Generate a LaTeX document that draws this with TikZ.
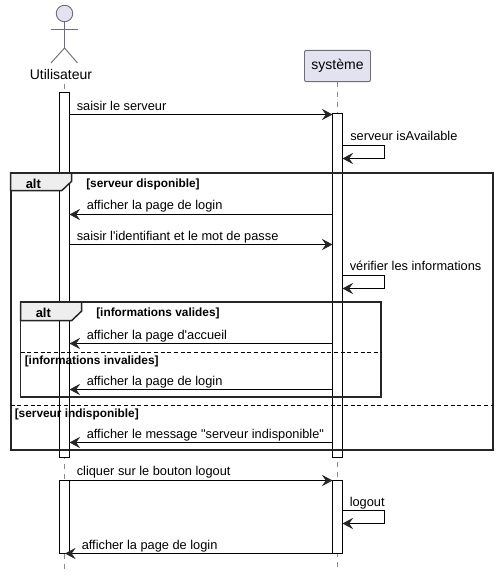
\documentclass[tikz,border=0pt]{standalone}
\usepackage{fontspec}
\setmainfont[Ligatures=TeXOff]{Liberation Sans}
\usepackage{xcolor}
\usetikzlibrary{arrows.meta,positioning,calc}
\definecolor{partfill}{HTML}{E2E2F0}
\definecolor{partline}{HTML}{6E6E78}
\definecolor{tabfill}{HTML}{EEEEEE}
\definecolor{lifeline}{HTML}{8A8A8A}

\begin{document}
\begin{tikzpicture}[
      x=0.75pt, y=-0.75pt,
      msg/.style={draw=black, line width=0.75pt, -{Stealth[length=8pt,width=8.5pt,inset=3pt,color=black!85]}},
      lbl/.style={anchor=base west, inner sep=0pt, font=\fontsize{9.6}{11}\selectfont},
      guard/.style={anchor=base west, inner sep=0pt, font=\fontsize{8.9}{11}\selectfont\bfseries},
      bar/.style={draw=black, fill=white, line width=0.75pt, minimum width=7.5pt, inner sep=0pt, outer sep=0pt},
      frame/.style={draw=black!85, line width=1.4pt, inner sep=0pt, outer sep=0pt},
      tab/.style={draw=black!85, line width=1.1pt, fill=tabfill},
      divider/.style={draw=black, line width=0.6pt, densely dashed},
      life/.style={draw=lifeline, line width=0.6pt, dash pattern=on 3.75pt off 3.75pt},
      stick/.style={draw=partline, line width=0.7pt}
    ]
    \useasboundingbox (0,0) rectangle (498,577);

    % participants
    \node[circle, draw=partline, fill=partfill, line width=0.7pt, minimum size=12.4pt, inner sep=0pt] (head) at (64.5,13.5) {};
    \coordinate (hip) at (64.5,48);
    \coordinate (armL) at (51,29);
    \coordinate (armR) at (77.5,29);
    \coordinate (footL) at (51,63);
    \coordinate (footR) at (77.5,63);
    \draw[stick] (head.south) -- (hip);
    \draw[stick] (armL) -- (armR);
    \draw[stick] (footL) -- (hip) -- (footR);
    \node[anchor=base, inner sep=0pt, font=\fontsize{10.5}{12}\selectfont] (user) at (61,80) {Utilisateur};
    \node[draw=partline, fill=partfill, rounded corners=1.5pt, line width=0.7pt, inner sep=0pt,
          minimum width=49.5pt, minimum height=23.5pt, font=\fontsize{10.5}{12}\selectfont] (sys) at (337.5,66) {système};

    % lifelines
    \coordinate (userTop) at (64.5,84);
    \coordinate (userEnd) at (64.5,569);
    \coordinate (sysEnd) at (337.5,569);
    \draw[life] (userTop) -- (userEnd);
    \draw[life] (sys.south) -- (sysEnd);

    % activations
    \node[bar, minimum height=364*0.75pt] (userA) at (64.5,275) {};
    \node[bar, minimum height=73*0.75pt] (userB) at (64.5,516.5) {};
    \node[bar, minimum height=343*0.75pt] (sysA) at (337.5,285.5) {};
    \node[bar, minimum height=73*0.75pt] (sysB) at (337.5,516.5) {};

    % message rows
    \coordinate (r1) at (0,114.5);
    \coordinate (r2) at (384.5,145.5);
    \coordinate (r2b) at (384.5,158.5);
    \coordinate (r3) at (0,214.5);
    \coordinate (r4) at (0,244.5);
    \coordinate (r5) at (384.5,275.5);
    \coordinate (r5b) at (384.5,288.5);
    \coordinate (r6) at (0,343.5);
    \coordinate (r7) at (0,389.5);
    \coordinate (r8) at (0,442.5);
    \coordinate (r9) at (0,480.5);
    \coordinate (r10) at (384.5,510.5);
    \coordinate (r10b) at (384.5,523.5);
    \coordinate (r11) at (0,553.5);
    \coordinate (tipEnd) at (65,553.5);

    \draw[msg] (userA.east |- r1) -- (sysA.west |- r1);
    \draw[msg] (sysA.east |- r2) -- (r2) -- (r2b) -- (sysA.east |- r2b);
    \draw[msg] (sysA.west |- r3) -- (userA.east |- r3);
    \draw[msg] (userA.east |- r4) -- (sysA.west |- r4);
    \draw[msg] (sysA.east |- r5) -- (r5) -- (r5b) -- (sysA.east |- r5b);
    \draw[msg] (sysA.west |- r6) -- (userA.east |- r6);
    \draw[msg] (sysA.west |- r7) -- (userA.east |- r7);
    \draw[msg] (sysA.west |- r8) -- (userA.east |- r8);
    \draw[msg] (userB.east |- r9) -- (sysB.west |- r9);
    \draw[msg] (sysB.east |- r10) -- (r10) -- (r10b) -- (sysB.east |- r10b);
    \draw[msg] (sysB.west |- r11) -- (tipEnd);

    % alt frames
    \node[frame, minimum width=482*0.75pt, minimum height=277*0.75pt] (outer) at (251.7,311.7) {};
    \node[frame, minimum width=360.5*0.75pt, minimum height=95*0.75pt] (inner) at (200.8,349.7) {};
    \draw[tab] (outer.north west) -- ++(61,0) -- ++(0,8) -- ++(-10,9.5) -- ++(-51,0) -- cycle;
    \draw[tab] (inner.north west) -- ++(61,0) -- ++(0,9) -- ++(-10,9.5) -- ++(-51,0) -- cycle;
    \coordinate (d1) at (0,352.5);
    \coordinate (d2) at (0,405.5);
    \draw[divider] (inner.west |- d1) -- (inner.east |- d1);
    \draw[divider] (outer.west |- d2) -- (outer.east |- d2);

    \node[guard, font=\fontsize{9.75}{11}\selectfont\bfseries] (altA) at (25.5,189) {alt};
    \node[guard, font=\fontsize{9.75}{11}\selectfont\bfseries] (altB) at (35.5,317) {alt};
    \node[guard] (g1) at (86,187.5) {[serveur disponible]};
    \node[guard] (g2) at (96,316) {[informations valides]};
    \node[guard] (g3) at (24.5,364.5) {[informations invalides]};
    \node[guard] (g4) at (14.5,417) {[serveur indisponible]};

    % message labels
    \node[lbl] (m1) at (76.5,110.5) {saisir le serveur};
    \node[lbl] (m2) at (350,140.5) {serveur isAvailable};
    \node[lbl] (m3) at (86.5,209.5) {afficher la page de login};
    \node[lbl] (m4) at (76.5,240.5) {saisir l'identifiant et le mot de passe};
    \node[lbl] (m5) at (349.5,270.5) {vérifier les informations};
    \node[lbl] (m6) at (86.5,339) {afficher la page d'accueil};
    \node[lbl] (m7) at (86.5,385.5) {afficher la page de login};
    \node[lbl] (m8) at (86.5,438.5) {afficher le message "serveur indisponible"};
    \node[lbl] (m9) at (76.5,475.5) {cliquer sur le bouton logout};
    \node[lbl] (m10) at (349.5,506) {logout};
    \node[lbl] (m11) at (81.5,549.5) {afficher la page de login};
  \end{tikzpicture}
\end{document}
